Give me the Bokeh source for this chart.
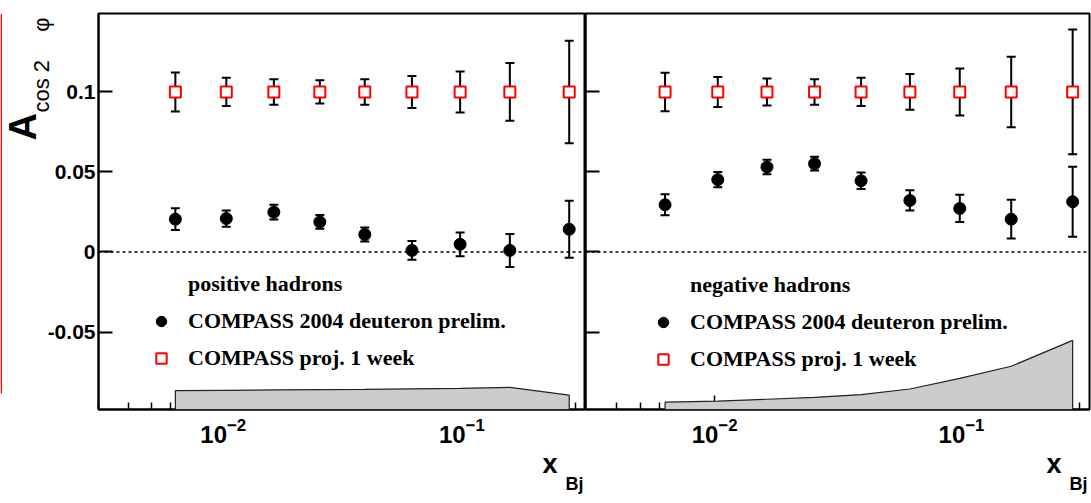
import numpy as np
from bokeh.plotting import figure
from bokeh.models import (ColumnDataSource, Whisker, TeeHead, Span, Legend, LegendItem,
                          FixedTicker, Title, CustomJSTickFormatter, BoxAnnotation)
from bokeh.layouts import row
from bokeh.embed import file_html
from bokeh.resources import INLINE

# ---------------- data ----------------
x_bj = [0.0063, 0.0103, 0.0163, 0.0254, 0.0392, 0.0618, 0.0984, 0.159, 0.282]

pos_val = [0.0205, 0.0209, 0.0249, 0.0188, 0.0109, 0.0010, 0.0048, 0.0010, 0.0142]
pos_err = [0.0068, 0.0051, 0.0046, 0.0043, 0.0044, 0.0058, 0.0074, 0.0103, 0.0178]
pos_proj_val = [0.1, 0.1, 0.1, 0.1, 0.1, 0.1, 0.1, 0.1, 0.1]
pos_proj_err = [0.0122, 0.0088, 0.0080, 0.0073, 0.0080, 0.0100, 0.0128, 0.0180, 0.0320]
pos_sys_top = [-0.0866, -0.0864, -0.0862, -0.0860, -0.0858, -0.0855, -0.0852, -0.0846, -0.0894]

neg_val = [0.0295, 0.0452, 0.0531, 0.0552, 0.0445, 0.0322, 0.0272, 0.0205, 0.0314]
neg_err = [0.0066, 0.0048, 0.0046, 0.0043, 0.0052, 0.0063, 0.0085, 0.0121, 0.0218]
neg_proj_val = [0.1, 0.1, 0.1, 0.1, 0.1, 0.1, 0.1, 0.1, 0.1]
neg_proj_err = [0.0120, 0.0094, 0.0084, 0.0080, 0.0088, 0.0112, 0.0147, 0.0220, 0.0390]
neg_sys_top = [-0.0938, -0.0932, -0.0920, -0.0908, -0.0891, -0.0856, -0.0790, -0.0714, -0.0552]

y_ticks = [-0.05, 0.0, 0.05, 0.1]
y_tick_labels = ["-0.05", "0", "0.05", "0.1"]
x_major_ticks = [0.01, 0.1]
x_minor_ticks = [0.003, 0.004, 0.005, 0.006, 0.007, 0.008, 0.009,
                 0.02, 0.03, 0.04, 0.05, 0.06, 0.07, 0.08, 0.09, 0.2, 0.3]

X_RANGE = (0.003, 0.33)
Y_RANGE = (-0.0984, 0.149)

legend_title = ["positive hadrons", "negative hadrons"]
legend_data = "COMPASS 2004 deuteron prelim."
legend_proj = "COMPASS proj. 1 week"
y_title_main = "A"
y_title_sub = "cos 2 \u2003φ"
x_title_main = "x"
x_title_sub = "Bj"

SANS = "Liberation Sans"
SERIF = "Liberation Serif"


def make_panel(width, b_left, b_right, vals, errs, pvals, perrs, sys_top, title,
               legend_loc, show_ylabels):
    p = figure(width=width, height=503, x_axis_type="log", x_range=X_RANGE, y_range=Y_RANGE,
               output_backend="svg", toolbar_location=None,
               min_border_left=b_left, min_border_right=b_right,
               min_border_top=13, min_border_bottom=94)
    p.grid.visible = False
    p.outline_line_color = "black"
    p.outline_line_width = 2
    p.background_fill_color = "white"
    p.border_fill_color = "white"

    # x axis
    xa = p.xaxis[0]
    xa.ticker = FixedTicker(ticks=x_major_ticks, minor_ticks=x_minor_ticks)
    xa.major_tick_in = 14
    xa.major_tick_out = 0
    xa.minor_tick_in = 7
    xa.minor_tick_out = 0
    xa.axis_line_width = 2
    xa.major_tick_line_width = 1.5
    xa.minor_tick_line_width = 1.5
    xa.major_label_text_font = SANS
    xa.major_label_text_font_style = "bold"
    xa.major_label_text_font_size = "24px"
    xa.major_label_text_color = "black"
    xa.major_label_standoff = 8

    # y axis
    ya = p.yaxis[0]
    ya.ticker = FixedTicker(ticks=y_ticks, minor_ticks=[])
    ya.major_tick_in = 14
    ya.major_tick_out = 0
    ya.minor_tick_in = 0
    ya.minor_tick_out = 0
    ya.axis_line_width = 2
    ya.major_tick_line_width = 2
    if show_ylabels:
        ya.major_label_overrides = dict(zip(y_ticks, y_tick_labels))
        ya.major_label_text_font = SANS
        ya.major_label_text_font_style = "bold"
        ya.major_label_text_font_size = "21px"
        ya.major_label_text_color = "black"
        ya.major_label_standoff = 3
    else:
        ya.formatter = CustomJSTickFormatter(code="return ''")
        ya.major_label_standoff = 0

    # zero line
    p.add_layout(Span(location=0, dimension="width", line_color="black",
                      line_width=1.5, line_dash="3 3"))

    # systematic band
    band_x = [x_bj[0]] + list(x_bj) + [x_bj[-1]]
    band_y = [Y_RANGE[0]] + list(sys_top) + [Y_RANGE[0]]
    band = p.patch(band_x, band_y, fill_color="#cccccc", line_color="#222222", line_width=1.2)
    band.level = "overlay"

    # error bars
    src_p = ColumnDataSource(dict(x=x_bj, y=pvals,
                                  lo=[v - e for v, e in zip(pvals, perrs)],
                                  hi=[v + e for v, e in zip(pvals, perrs)]))
    src_d = ColumnDataSource(dict(x=x_bj, y=vals,
                                  lo=[v - e for v, e in zip(vals, errs)],
                                  hi=[v + e for v, e in zip(vals, errs)]))
    for src in (src_p, src_d):
        w = Whisker(source=src, base="x", upper="hi", lower="lo", dimension="height",
                    line_color="black", line_width=2,
                    upper_head=TeeHead(size=9, line_width=2, line_color="black"),
                    lower_head=TeeHead(size=9, line_width=2, line_color="black"))
        w.level = "underlay"
        p.add_layout(w)

    r_sq = p.scatter("x", "y", source=src_p, marker="square", size=11,
                     fill_color="white", line_color="#ff0000", line_width=2)
    r_dot = p.scatter("x", "y", source=src_d, marker="circle", size=12,
                      fill_color="black", line_color="black")
    r_dummy = p.scatter(x=[np.nan], y=[np.nan], alpha=0)

    legend = Legend(items=[LegendItem(label=title, renderers=[r_dummy]),
                           LegendItem(label=legend_data, renderers=[r_dot]),
                           LegendItem(label=legend_proj, renderers=[r_sq])],
                    location=legend_loc, orientation="vertical",
                    glyph_width=26, glyph_height=28, label_height=28, spacing=9,
                    label_standoff=14, padding=0, margin=0,
                    border_line_alpha=0, background_fill_alpha=0,
                    label_text_font=SERIF, label_text_font_style="bold",
                    label_text_font_size="22px", label_text_color="black")
    p.add_layout(legend)

    # x axis title: "x" with subscript "Bj"
    p.add_layout(Title(text=x_title_main, align="right", vertical_align="bottom",
                       offset=28, standoff=2, text_font=SANS, text_font_style="bold",
                       text_font_size="27px", text_color="black"), "below")
    p.add_layout(Title(text=x_title_sub, align="right", vertical_align="bottom",
                       offset=2, standoff=-16, text_font=SANS, text_font_style="bold",
                       text_font_size="18px", text_color="black"), "below")
    return p


# thin red rule at the far left edge of the slide
p0 = figure(width=2, height=503, output_backend="svg", toolbar_location=None,
            min_border_left=0, min_border_right=0, min_border_top=13, min_border_bottom=94,
            x_axis_location=None, y_axis_location=None)
p0.grid.visible = False
p0.outline_line_color = None
p0.background_fill_color = "white"
p0.border_fill_color = "white"
p0.add_layout(BoxAnnotation(bottom=16, top=396, bottom_units="screen", top_units="screen",
                            fill_color="#ff0000", fill_alpha=1, line_alpha=0))

p1 = make_panel(583, 96, 0, pos_val, pos_err, pos_proj_val, pos_proj_err, pos_sys_top,
                legend_title[0], (50, 37), True)
p2 = make_panel(506, 0, 2, neg_val, neg_err, neg_proj_val, neg_proj_err, neg_sys_top,
                legend_title[1], (65, 36), False)

# y axis title  A_{cos 2 phi}
p1.add_layout(Title(text=y_title_sub, align="left", vertical_align="bottom",
                    offset=297, standoff=-19, text_font=SANS, text_font_style="normal",
                    text_font_size="22px", text_color="black"), "left")
p1.add_layout(Title(text=y_title_main, align="left", vertical_align="bottom",
                    offset=269, standoff=-15, text_font=SANS, text_font_style="bold",
                    text_font_size="38px", text_color="black"), "left")

layout = row(p0, p1, p2)
open("out.html", "w").write(file_html(layout, INLINE))
